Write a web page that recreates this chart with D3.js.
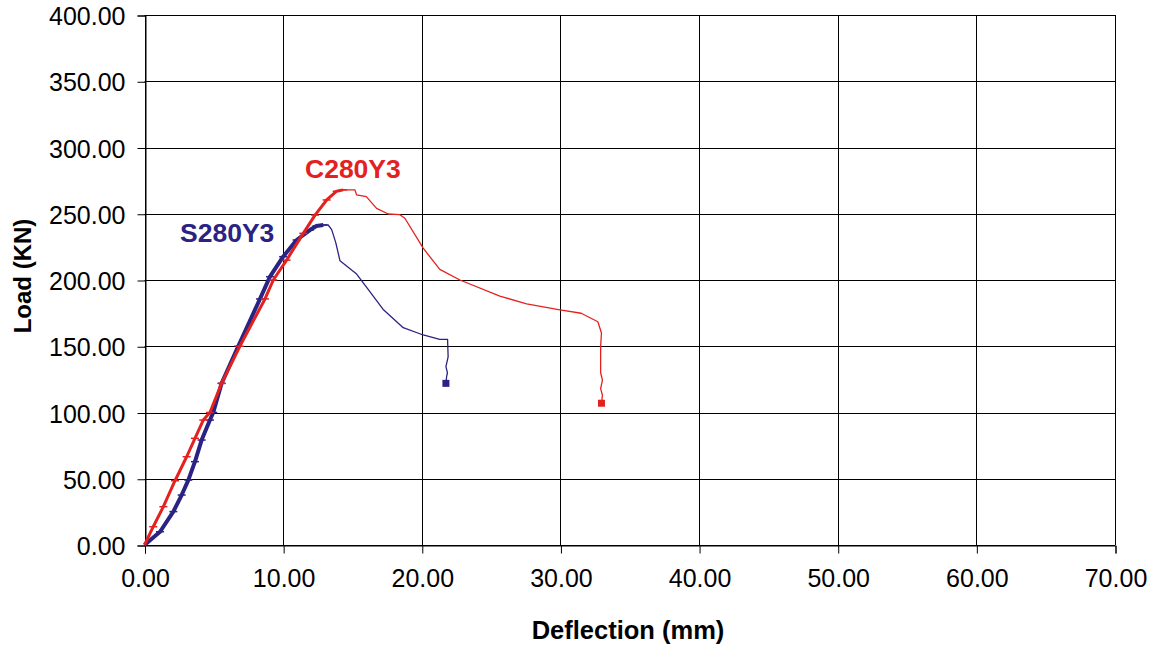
<!DOCTYPE html>
<html><head><meta charset="utf-8">
<script src="https://cdn.jsdelivr.net/npm/d3@7"></script>
<style>body{margin:0;background:#fff}svg{display:block}text{font-family:"Liberation Sans",Arial,sans-serif}</style>
</head><body>
<svg id="c" width="1156" height="645"></svg>
<script>
// ---- data ----
const xTicks = [0,10,20,30,40,50,60,70];
const yTicks = [0,50,100,150,200,250,300,350,400];
const seriesNames = ["S280Y3","C280Y3"];
const sX = [0,1.12,2.08,2.68,3.16,3.64,4.12,4.72,4.96,5.56,6.76,8.33,9.05,10.0,10.97,11.93,12.4,12.9,13.25,13.5,13.8,14.1,15.3,16.2,17.2,18.66,20.1,21.3,21.86,21.9,21.74,21.85,21.79,21.74];
const sY = [0,10,25.2,37.7,49,62.9,79.2,94.3,100,122,150,185.7,202.5,217.6,230.2,237.7,240.8,241.5,241.5,238,228,214.5,204.5,192,178,164,158.5,155.2,155.2,142,134.6,130,127,122];
const cX = [0,0.63,1.36,2.2,3.04,3.64,4.24,4.72,5.56,6.88,8.69,9.29,10.25,11.45,12.3,13.14,13.86,14.33,15.18,15.3,16.0,16.74,17.58,18.42,18.78,20.1,21.3,22.75,25.63,27.56,29.97,31.5,32.7,32.96,32.9,32.9,33.03,32.9,33.03,32.96];
const cY = [0,13.8,28.9,48.5,66.6,80.5,94.3,100,122,150,185.7,200,215,235.2,249,260.4,267,268,268,264.2,262.9,254.1,249.8,249.3,246.6,224,208,200,187.9,181.9,177.4,174.9,168.5,160,150,130,124.5,118,113,107];

const svg = d3.select("#c");
const m = {l:144.5, t:15, r:1115, b:545};
const x = d3.scaleLinear().domain([0,70]).range([m.l, m.r]);
const y = d3.scaleLinear().domain([0,400]).range([m.b, m.t]);
const fmt = d3.format(".2f");

// grid
const g = svg.append("g");
g.selectAll("line.h").data(yTicks).join("line")
  .attr("x1", m.l).attr("x2", m.r)
  .attr("y1", d=>Math.round(y(d))+0.5).attr("y2", d=>Math.round(y(d))+0.5)
  .attr("stroke","#000").attr("stroke-width",1);
g.selectAll("line.v").data(xTicks).join("line")
  .attr("y1", m.t).attr("y2", m.b)
  .attr("x1", d=>Math.round(x(d))+0.5).attr("x2", d=>Math.round(x(d))+0.5)
  .attr("stroke","#000").attr("stroke-width",1);

// axes
const yAxis = d3.axisLeft(y).tickValues(yTicks).tickFormat(fmt).tickSize(8).tickPadding(12);
const xAxis = d3.axisBottom(x).tickValues(xTicks).tickFormat(fmt).tickSize(8).tickPadding(16);
const ya = svg.append("g").attr("transform",`translate(${Math.round(m.l)+0.5},0.5)`).call(yAxis);
const xa = svg.append("g").attr("transform",`translate(0.5,${Math.round(m.b)+0.5})`).call(xAxis);
[ya,xa].forEach(a=>{
  a.select(".domain").attr("stroke","#000");
  a.selectAll(".tick line").attr("stroke","#000");
  a.selectAll(".tick text").attr("fill","#000").style("font-size","25px").style("font-family",'"Liberation Sans",Arial,sans-serif');
});
ya.selectAll(".tick text").attr("dy","0.36em");

// titles
svg.append("text").attr("x",628).attr("y",639).attr("text-anchor","middle")
  .style("font-size","25.5px").style("font-weight","bold").text("Deflection (mm)");
svg.append("text").attr("transform","translate(31,276) rotate(-90)").attr("text-anchor","middle")
  .style("font-size","24px").style("font-weight","bold").text("Load (KN)");

// series
const series = [
  {name:seriesNames[0], xs:sX, ys:sY, color:"#2b2383", thick:4},
  {name:seriesNames[1], xs:cX, ys:cY, color:"#e3221f", thick:3},
];
const line = d3.line().x(d=>x(d[0])).y(d=>y(d[1]));
series.forEach(s=>{
  const pts = s.xs.map((v,i)=>[v,s.ys[i]]);
  const peak = d3.maxIndex(s.ys);
  svg.append("path").datum(pts.slice(peak)).attr("d",line)
    .attr("fill","none").attr("stroke",s.color).attr("stroke-width",1.3).attr("stroke-linejoin","round");
  svg.append("path").datum(pts.slice(0,peak+1)).attr("d",line)
    .attr("fill","none").attr("stroke",s.color).attr("stroke-width",s.thick).attr("stroke-linejoin","round");
  // dash markers on the dense pre-peak data points
  svg.append("g").selectAll("line").data(pts.slice(1,peak+1)).join("line")
    .attr("x1",d=>x(d[0])-4).attr("x2",d=>x(d[0])+4)
    .attr("y1",d=>y(d[1])).attr("y2",d=>y(d[1]))
    .attr("stroke",s.color).attr("stroke-width",1.5);
  const last = pts[pts.length-1];
  svg.append("rect").attr("x",x(last[0])-3.5).attr("y",y(last[1])-3.5)
    .attr("width",7).attr("height",7).attr("fill",s.color);
});

// series labels
svg.append("text").attr("x",180).attr("y",242).style("font-size","26.5px").style("font-weight","bold")
  .attr("fill","#2b2383").text(seriesNames[0]);
svg.append("text").attr("x",305).attr("y",178).style("font-size","26.5px").style("font-weight","bold")
  .attr("fill","#e3221f").text(seriesNames[1]);
</script>
</body></html>
